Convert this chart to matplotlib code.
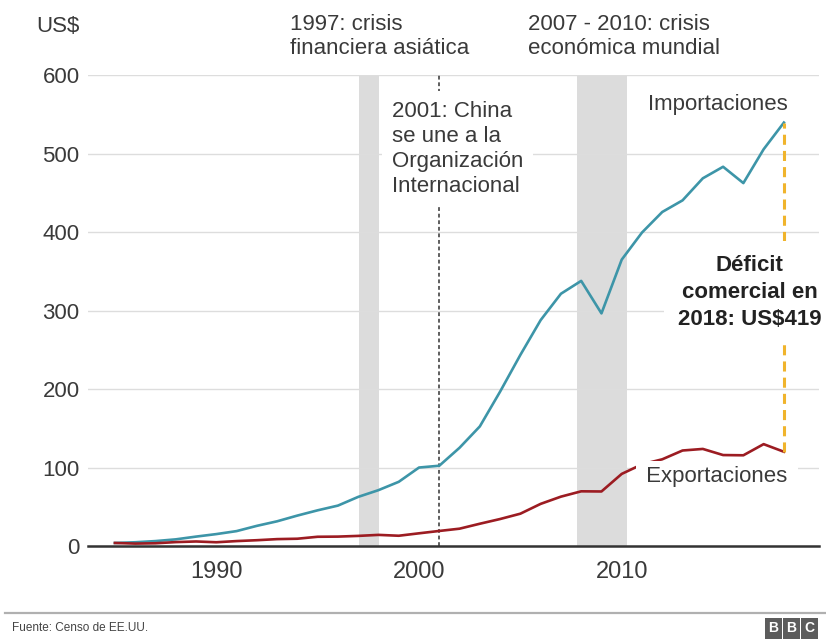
import matplotlib
matplotlib.use("Agg")
import matplotlib.pyplot as plt
from matplotlib.lines import Line2D

plt.rcParams['font.family'] = ['Liberation Sans', 'DejaVu Sans']

# US trade with China, billions of US$
years = list(range(1985, 2019))
imports = [3.9, 4.8, 6.3, 8.5, 12.0, 15.2, 19.0, 25.7, 31.5, 38.8,
           45.5, 51.5, 62.6, 71.2, 81.8, 100.0, 102.3, 125.2, 152.4, 196.7,
           243.5, 287.8, 321.4, 337.8, 296.4, 364.9, 399.4, 425.6, 440.4, 468.5,
           483.2, 462.4, 505.5, 539.5]
exports = [3.9, 3.1, 3.5, 5.0, 5.8, 4.8, 6.3, 7.4, 8.8, 9.3,
           11.8, 12.0, 12.9, 14.2, 13.1, 16.2, 19.2, 22.1, 28.4, 34.4,
           41.2, 53.7, 62.9, 69.7, 69.5, 91.9, 104.1, 110.5, 121.7, 123.7,
           115.9, 115.6, 129.8, 120.1]

crises = [(1997.05, 1998.05), (2007.8, 2010.25)]
wto_year = 2001
y_ticks = [0, 100, 200, 300, 400, 500, 600]
x_ticks = [1990, 2000, 2010]

teal = '#3d95a8'
red = '#9c1c22'
yellow = '#f0b42c'
text_col = '#3a3a3a'

fig = plt.figure(figsize=(8.26, 6.39), dpi=100)
ax = fig.add_axes([0.1065, 0.1455, 0.885, 0.737])

# shaded crisis periods
for start, end in crises:
    ax.axvspan(start, end, color='#dcdcdc', lw=0, zorder=0)

# China joins WTO
ax.axvline(wto_year, color='#333333', lw=1.1, ls=(0, (2.5, 1.8)), zorder=1.6)

ax.plot(years, imports, color=teal, lw=1.9, zorder=2)
ax.plot(years, exports, color=red, lw=1.9, zorder=2)

# deficit marker for the last year
ax.plot([years[-1], years[-1]], [exports[-1], imports[-1]], color=yellow,
        lw=2.2, ls=(0, (3.3, 2)), zorder=2.2)

ax.axhline(0, color='#333333', lw=1.8, zorder=1.8, clip_on=False)

ax.set_xlim(1983.67, 2019.73)
ax.set_ylim(0, 600)
ax.set_yticks(y_ticks)
ax.set_xticks(x_ticks)
ax.set_xticklabels([str(t) for t in x_ticks])
ax.tick_params(axis='both', length=0, colors=text_col)
ax.tick_params(axis='y', labelsize=16, pad=6)
ax.tick_params(axis='x', labelsize=17, pad=11)
ax.grid(axis='y', color='#dddddd', lw=1)
for s in ax.spines.values():
    s.set_visible(False)

# labels inside the plot
ax.text(1998.66, 567, "2001: China\nse une a la\nOrganización\nInternacional",
        ha='left', va='top', fontsize=16, color=text_col, linespacing=1.25,
        zorder=3, bbox=dict(boxstyle='square,pad=0.45', fc='white', ec='none'))
ax.text(2014.75, 562, "Importaciones", ha='center', va='center',
        fontsize=16, color=text_col, zorder=3)
ax.text(2014.7, 89, " Exportaciones ", ha='center', va='center',
        fontsize=16, color=text_col, zorder=3,
        bbox=dict(boxstyle='square,pad=0.2', fc='white', ec='none'))
deficit = imports[-1] - exports[-1]
ax.text(2016.3, 323, f"Déficit\ncomercial en\n{years[-1]}: US${deficit:.0f}",
        ha='center', va='center', fontsize=16, fontweight='bold',
        color='#222222', linespacing=1.4, zorder=3, clip_on=False,
        bbox=dict(boxstyle='square,pad=0.6', fc='white', ec='none'))

# header texts
fig.text(0.0969, 0.9593, "US$", ha='right', va='center', fontsize=16, color=text_col)
fig.text(0.351, 0.978, "1997: crisis\nfinanciera asiática", ha='left', va='top',
         fontsize=16, color=text_col, linespacing=1.2)
fig.text(0.639, 0.978, "2007 - 2010: crisis\neconómica mundial", ha='left', va='top',
         fontsize=16, color=text_col, linespacing=1.2)

# footer
fig.add_artist(Line2D([0.006, 1.0], [0.0405, 0.0405], color='#b0b0b0', lw=1.6))
fig.text(0.0145, 0.017, "Fuente: Censo de EE.UU.", ha='left', va='center',
         fontsize=8.5, color='#444444')
for i, letter in enumerate("BBC"):
    fig.text(0.936 + i * 0.022, 0.017, letter, ha='center', va='center',
             fontsize=10, fontweight='bold', color='white',
             bbox=dict(boxstyle='square,pad=0.25', fc='#5c5c5c', ec='none'))

fig.savefig("out.png", dpi=100)
